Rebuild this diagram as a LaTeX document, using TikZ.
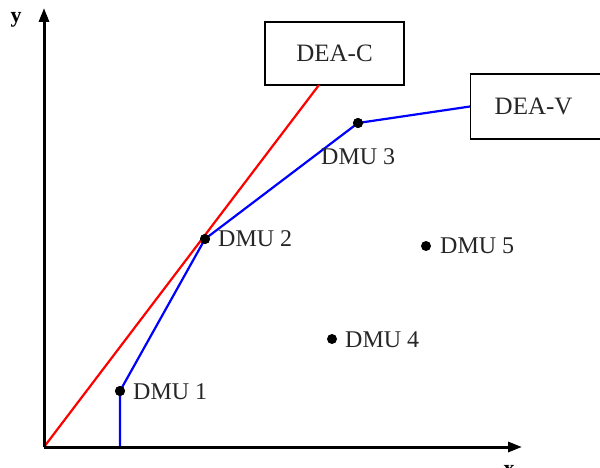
\documentclass[tikz,border=0pt]{standalone}
\usepackage{fontspec}
\setmainfont{Liberation Serif}
\usetikzlibrary{arrows.meta}
\begin{document}
\begin{tikzpicture}[x=1pt,y=-1pt,
  axis/.style={line width=3pt,-{Triangle[length=14pt,width=10pt]}},
  dmu/.style={circle,fill=black,inner sep=0pt,minimum size=10pt},
  lbl/.style={anchor=west,inner sep=0pt,font=\fontsize{24}{24}\selectfont,text=black!85},
  box/.style={draw,line width=1.2pt,font=\fontsize{25}{25}\selectfont,text=black!85,inner sep=0pt},
  front/.style={line width=2.2pt}]
\useasboundingbox (0,0) rectangle (600,468);
\coordinate (O) at (44,447);
\coordinate (ytop) at (44,8);
\coordinate (xend) at (522,447);
\coordinate (foot) at (120,447);
\node[box,minimum width=139pt,minimum height=63pt] (deac) at (334.5,53.5) {DEA-C};
\node[box,minimum width=130pt,minimum height=65pt,anchor=west] (deav) at (470,106.5) {\hspace*{10pt}DEA-V\hspace*{14pt}};
\node[dmu] (d1) at (120,391) {};
\node[dmu] (d2) at (205,239) {};
\node[dmu] (d3) at (358,123) {};
\node[dmu] (d4) at (332,339) {};
\node[dmu] (d5) at (426,246) {};
\coordinate (redend) at (319,85);
\draw[red,front] (O) -- (redend);
\draw[blue,front] (foot) -- (d1.center) -- (d2.center) -- (d3.center) -- (deav.west);
\draw[axis] (O) -- (ytop);
\draw[axis] (O) -- (xend);
\node[dmu] at (d1) {};
\node[dmu] at (d2) {};
\node[dmu] at (d3) {};
\node[lbl] (l1) at (133,392) {DMU 1};
\node[lbl] (l2) at (218,239) {DMU 2};
\node[lbl] (l3) at (321,157) {DMU 3};
\node[lbl] (l4) at (345,340) {DMU 4};
\node[lbl] (l5) at (440,246) {DMU 5};
\node[font=\bfseries\fontsize{22}{22}\selectfont] (ylab) at (16,20) {y};
\node[font=\bfseries\fontsize{22}{22}\selectfont] (xlab) at (509,470) {x};
\end{tikzpicture}
\end{document}
